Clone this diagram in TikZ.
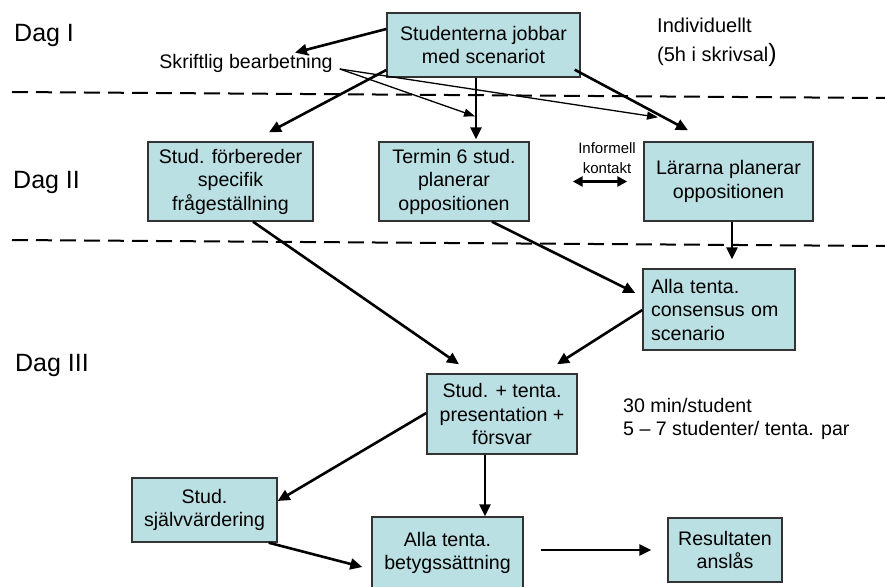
\documentclass[tikz,border=0pt]{standalone}
\usepackage{fontspec}
\setmainfont{Liberation Sans}
\usetikzlibrary{arrows.meta}
\definecolor{boxfill}{HTML}{BBE0E3}
\definecolor{boxline}{HTML}{333333}
\tikzset{
  stepbox/.style={draw=boxline, line width=1.4pt, fill=boxfill, inner sep=2pt,
    align=center, font=\fontsize{19.6}{23.5}\selectfont},
  daylabel/.style={anchor=west, inner sep=0pt, font=\fontsize{25}{30}\selectfont},
  note/.style={inner sep=0pt, font=\fontsize{19.6}{23.5}\selectfont},
  thickarrow/.style={line width=2.6pt, -{Triangle[length=12pt,width=11pt]}},
  thinarrow/.style={line width=1.3pt, -{Triangle[length=11pt,width=8pt]}},
  dayline/.style={line width=2pt, dash pattern=on 16pt off 8pt}
}
\begin{document}
\begin{tikzpicture}[x=1pt,y=-1pt]
\useasboundingbox (0,0) rectangle (885,586);
% day separators
\coordinate (l1a) at (12,92);  \coordinate (l1b) at (885,98);
\coordinate (l2a) at (12,240); \coordinate (l2b) at (885,246);
\draw[dayline] (l1a) -- (l1b);
\draw[dayline] (l2a) -- (l2b);
% labels
\node[daylabel] (d1) at (14,35) {Dag I};
\node[daylabel] (d2) at (13,182) {Dag II};
\node[daylabel] (d3) at (15,365) {Dag III};
\node[note] (skr) at (246,63) {Skriftlig bearbetning};
\node[note, anchor=west, font=\fontsize{20}{24}\selectfont] (ind1) at (657,25) {Individuellt};
\node[note, anchor=west, font=\fontsize{20}{24}\selectfont] (ind2) at (657,55) {(5h i skrivsal{\fontsize{25}{30}\selectfont)}};
\node[note, anchor=west, align=left, font=\fontsize{19.6}{23}\selectfont] (tid) at (623,418.5) {30 min/student\\5 – 7 studenter/ tenta. par};
\node[note, align=center, font=\fontsize{15}{20}\selectfont] (inf) at (607,158) {Informell\\kontakt};
% boxes
\node[stepbox, minimum width=193pt, minimum height=64pt] (A) at (483.5,45) {Studenterna jobbar\\med scenariot};
\node[stepbox, minimum width=165pt, minimum height=79pt] (B) at (230.5,181.5) {Stud. förbereder\\specifik\\frågeställning};
\node[stepbox, minimum width=150pt, minimum height=79pt] (C) at (454,181.5) {Termin 6 stud.\\planerar\\oppositionen};
\node[stepbox, minimum width=169pt, minimum height=79pt] (D) at (728.5,181.5) {Lärarna planerar\\oppositionen};
\node[stepbox, minimum width=152pt, minimum height=81pt, text width=136pt, align=left] (E) at (719,309.5) {Alla tenta.\\consensus om\\scenario};
\node[stepbox, minimum width=150pt, minimum height=80pt] (F) at (502,414) {Stud. + tenta.\\presentation +\\försvar};
\node[stepbox, minimum width=145pt, minimum height=64pt] (G) at (204.5,510) {Stud.\\självvärdering};
\node[stepbox, minimum width=151pt, minimum height=72pt] (H) at (447.5,553) {Alla tenta.\\betygssättning};
\node[stepbox, minimum width=114pt, minimum height=64pt] (I) at (725,550) {Resultaten\\anslås};
% connectors
\draw[thickarrow] ([yshift=16pt]A.west) -- ([xshift=49pt,yshift=1pt]skr.north);
\draw[thickarrow] ([yshift=-25pt]A.west) -- ([xshift=38.5pt,yshift=9pt]B.north);
\draw[thickarrow] ([xshift=-7.5pt]A.south) -- ([xshift=22pt,yshift=2pt]C.north);
\draw[thickarrow] ([xshift=-6pt,yshift=8pt]A.south east) -- ([xshift=-40.5pt,yshift=11pt]D.north);
\draw[thinarrow] ([xshift=7pt,yshift=-6pt]skr.east) -- ([xshift=21pt,yshift=25pt]C.north);
\draw[thinarrow] ([xshift=7pt,yshift=-6pt]skr.east) -- ([xshift=-70.5pt,yshift=24pt]D.north);
\draw[line width=2.6pt, {Triangle[length=10pt,width=10pt]}-{Triangle[length=10pt,width=10pt]}] ([xshift=43pt]C.east) -- ([xshift=-16pt]D.west);
\draw[thickarrow] ([xshift=3.5pt]D.south) -- ([xshift=13pt,yshift=9pt]E.north);
\draw[thickarrow] ([xshift=38pt]C.south) -- ([xshift=-7pt,yshift=16.5pt]E.west);
\draw[thickarrow] ([xshift=22.5pt]B.south) -- ([xshift=-43pt,yshift=9pt]F.north);
\draw[thickarrow] ([yshift=-0.5pt]E.west) -- ([xshift=55pt,yshift=9pt]F.north);
\draw[thickarrow] ([yshift=1pt]F.west) -- ([yshift=9pt]G.east);
\draw[thickarrow] ([xshift=-17pt]F.south) -- ([xshift=37.5pt]H.north);
\draw[thickarrow] ([xshift=-9pt]G.south east) -- ([xshift=-9pt,yshift=-14pt]H.west);
\draw[thickarrow] ([xshift=17pt,yshift=3pt]H.east) -- ([xshift=-16pt]I.west);
\end{tikzpicture}
\end{document}
